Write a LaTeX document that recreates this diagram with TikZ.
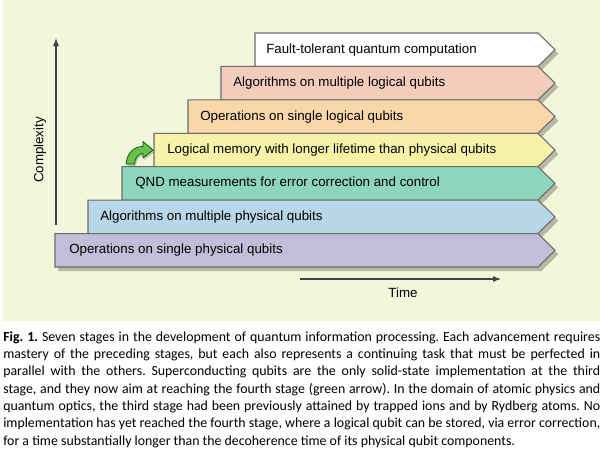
\documentclass[tikz,border=0pt]{standalone}
\usepackage{fontspec}
\setmainfont{Liberation Sans}
\newfontfamily\capfont{Carlito}
\usetikzlibrary{arrows.meta,shadows}

\definecolor{bgcol}{HTML}{F2F7DC}
\definecolor{framecol}{HTML}{6B6B6B}
\definecolor{stagesev}{HTML}{FFFFFF}
\definecolor{stagesix}{HTML}{F3CDBB}
\definecolor{stagefiv}{HTML}{F8D7A8}
\definecolor{stagefou}{HTML}{F6F3A8}
\definecolor{stagethr}{HTML}{8DD6BD}
\definecolor{stagetwo}{HTML}{B7D6E8}
\definecolor{stageone}{HTML}{C3BDD9}
\definecolor{arrowgreen}{HTML}{6CC04A}

\begin{document}
\begin{tikzpicture}[x=0.75pt, y=-0.75pt,
  stage/.style={draw=framecol, line width=0.8pt, line join=miter,
    drop shadow={shadow xshift=2.5pt, shadow yshift=-3pt, fill=black, opacity=0.25}},
  steptext/.style={anchor=west, inner sep=0pt, font=\fontsize{10}{12}\selectfont},
  axis/.style={draw=black!75, line width=0.8pt, -{Latex[length=6pt,width=4.5pt]}}]
\useasboundingbox (0,0) rectangle (600,462);
\fill[bgcol] (3,0) rectangle (600,321);

% stages, top one first
\draw[stage, fill=stagesev] (255,33.0)--(538,33.0)--(555,49.7)--(538,66.4)--(255,66.4)--cycle;
\node[steptext] (fault) at (266,49.7) {Fault-tolerant quantum computation};

\draw[stage, fill=stagesix] (221,66.4)--(538,66.4)--(555,83.1)--(538,99.9)--(221,99.9)--cycle;
\node[steptext] (alglog) at (233,83.1) {Algorithms on multiple logical qubits};

\draw[stage, fill=stagefiv] (188,99.9)--(538,99.9)--(555,116.6)--(538,133.3)--(188,133.3)--cycle;
\node[steptext] (oplog) at (200,116.6) {Operations on single logical qubits};

\draw[stage, fill=stagefou] (154,133.3)--(538,133.3)--(555,150.0)--(538,166.7)--(154,166.7)--cycle;
\node[steptext] (memory) at (167,150.0) {Logical memory with longer lifetime than physical qubits};

\draw[stage, fill=stagethr] (122,166.7)--(538,166.7)--(555,183.4)--(538,200.1)--(122,200.1)--cycle;
\node[steptext] (qnd) at (135,183.4) {QND measurements for error correction and control};

\draw[stage, fill=stagetwo] (88,200.1)--(538,200.1)--(555,216.8)--(538,233.6)--(88,233.6)--cycle;
\node[steptext] (algphys) at (100,216.8) {Algorithms on multiple physical qubits};

\draw[stage, fill=stageone] (55,233.6)--(538,233.6)--(555,250.3)--(538,267.0)--(55,267.0)--cycle;
\node[steptext] (opphys) at (69,250.3) {Operations on single physical qubits};

% green arrow
\draw[fill=arrowgreen, draw=green!40!black, line width=0.6pt, line join=round,
  drop shadow={shadow xshift=1pt, shadow yshift=-1.5pt, fill=black, opacity=0.2}]
  (126,164) .. controls (127,153) and (134,146.5) .. (143,146.5) -- (143,141.5)
  -- (153,150) -- (143,158) -- (143,153.5) .. controls (139,153.5) and (135,157) .. (134.5,164) -- cycle;

% axes
\coordinate (ybot) at (56,225);
\coordinate (ytop) at (56,38);
\coordinate (xleft) at (300,279);
\coordinate (xright) at (501,279);
\draw[axis] (ybot) -- (ytop);
\draw[axis] (xleft) -- (xright);
\node[rotate=90, font=\fontsize{10}{12}\selectfont] (complexity) at (40,150) {Complexity};
\node[font=\fontsize{10}{12}\selectfont] (time) at (403,293) {Time};

% caption
\node[anchor=north west, inner sep=0pt, text width=447.75pt, align=justify,
  font=\capfont\fontsize{10.4}{13}\selectfont\frenchspacing] (caption) at (3,331) {%
\textbf{Fig.~1.} Seven stages in the development of quantum information processing. Each advancement requires\linebreak
mastery of the preceding stages, but each also represents a continuing task that must be perfected in\linebreak
parallel with the others. Superconducting qubits are the only solid-state implementation at the third\linebreak
stage, and they now aim at reaching the fourth stage (green arrow). In the domain of atomic physics and\linebreak
quantum optics, the third stage had been previously attained by trapped ions and by Rydberg atoms. No\linebreak
implementation has yet reached the fourth stage, where a logical qubit can be stored, via error correction,\linebreak
for a time substantially longer than the decoherence time of its physical qubit components.};
\end{tikzpicture}
\end{document}
